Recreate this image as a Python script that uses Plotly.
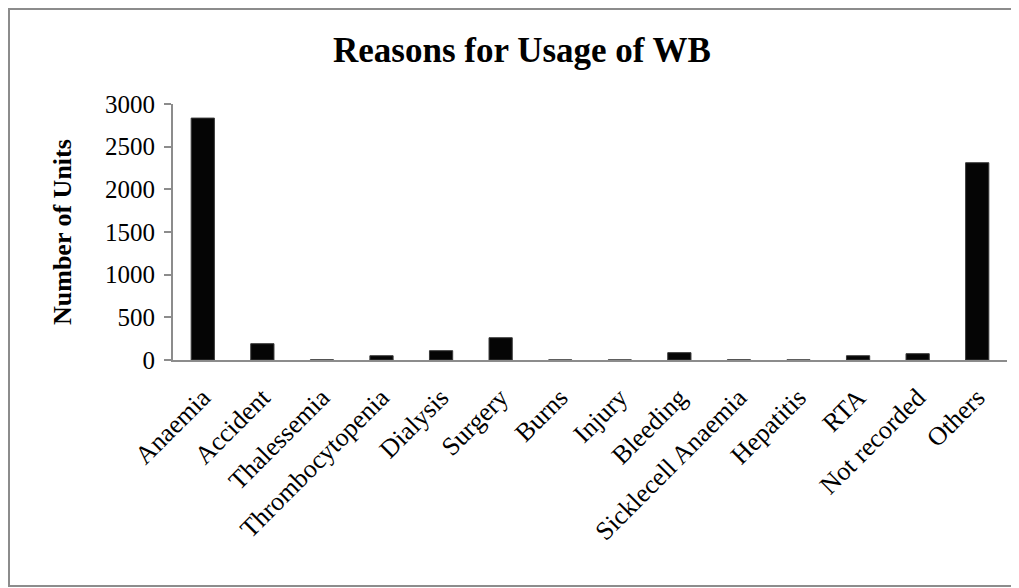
import plotly.graph_objects as go

categories = ["Anaemia", "Accident", "Thalessemia", "Thrombocytopenia", "Dialysis",
              "Surgery", "Burns", "Injury", "Bleeding", "Sicklecell Anaemia",
              "Hepatitis", "RTA", "Not recorded", "Others"]
values = [2835, 191, 2, 50, 109, 261, 1, 1, 86, 2, 1, 50, 74, 2312]
y_ticks = [0, 500, 1000, 1500, 2000, 2500, 3000]

SERIF = "Liberation Serif, Times New Roman, serif"

fig = go.Figure()
fig.add_trace(go.Bar(
    x=categories, y=values, width=0.39,
    marker=dict(color="#050505", line=dict(color="#3a3a3a", width=1)),
))

# the page body has an 8px margin; figure is sized/offset to compensate
W, H = 1011, 580
L, R, T, B = 165, 12, 96, 228
pw, ph = W - L - R, H - T - B

def px(x):
    return (x - L) / pw

def py(y):
    return (H - B - y) / ph

fig.add_shape(type="rect", xref="paper", yref="paper",
              x0=px(1), x1=px(1008), y0=py(578), y1=py(1),
              line=dict(color="#8c8c8c", width=2), layer="below")

fig.add_annotation(text="<b>Number of Units</b>", xref="paper", yref="paper",
                   x=px(54), y=0.5, xanchor="center", yanchor="middle",
                   textangle=-90, showarrow=False,
                   font=dict(family=SERIF, size=26, color="black"))

fig.update_layout(
    width=W, height=H,
    margin=dict(l=L, r=R, t=T, b=B, autoexpand=False),
    paper_bgcolor="white", plot_bgcolor="white",
    showlegend=False,
    title=dict(text="<b>Reasons for Usage of WB</b>", x=514 / W, xanchor="center",
               xref="container", y=1 - 42 / H, yanchor="middle",
               font=dict(family=SERIF, size=35, color="black")),
    font=dict(family=SERIF, color="black"),
)
fig.update_xaxes(
    tickangle=-45, tickfont=dict(family=SERIF, size=26, color="black"),
    ticklabelstandoff=10,
    showline=True, linecolor="#8c8c8c", linewidth=2, ticks="",
    showgrid=False, fixedrange=True, automargin=False,
)
fig.update_yaxes(
    range=[0, 3000], tickvals=y_ticks, ticktext=[str(v) for v in y_ticks],
    tickfont=dict(family=SERIF, size=25, color="black"),
    showline=True, linecolor="#8c8c8c", linewidth=2,
    ticks="outside", ticklen=7, tickcolor="#8c8c8c", tickwidth=2,
    ticklabelstandoff=4,
    showgrid=False, zeroline=False, automargin=False,
)

fig.write_html("out.html")
